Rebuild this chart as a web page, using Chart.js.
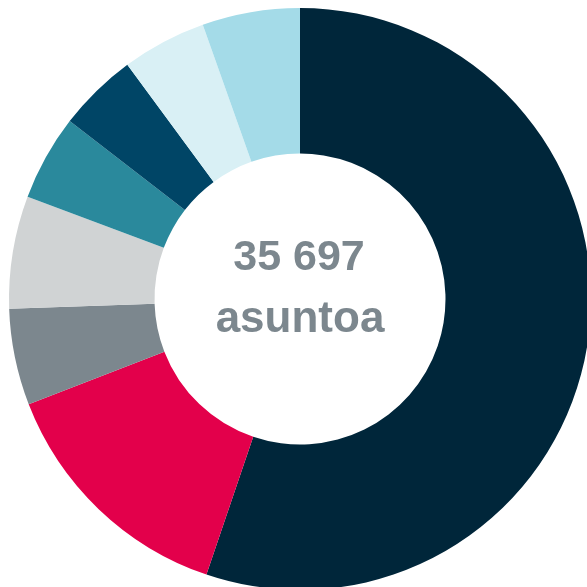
<!DOCTYPE html>
<html lang="fi">
<head>
  <meta charset="UTF-8" />
  <title>Asunnot</title>
  <script src="https://cdn.jsdelivr.net/npm/chart.js"></script>
  <style>
    html, body { margin: 0; padding: 0; background: #fff; }
    #wrap { width: 587px; height: 587px; overflow: hidden; position: relative; }
    #box { width: 600px; height: 600px; position: absolute; left: 0; top: 0; }
  </style>
</head>
<body>
  <div id="wrap"><div id="box"><canvas id="donut"></canvas></div></div>

  <script>
    // Data
    const labels = ["A", "B", "C", "D", "E", "F", "G", "H"];
    const values = [19708, 4962, 1913, 2231, 1696, 1578, 1674, 1935];
    const colors = ["#00263a", "#e3004b", "#7c878e", "#d0d3d4", "#2a899c", "#004566", "#d9f0f5", "#a4dbe8"];
    const totalText = "35 697";
    const unitText = "asuntoa";

    // center text
    const centerText = {
      id: "centerText",
      afterDraw(chart) {
        const ctx = chart.ctx;
        const a = chart.chartArea;
        const cx = (a.left + a.right) / 2;
        ctx.save();
        ctx.fillStyle = "#7c878e";
        ctx.textAlign = "center";
        ctx.textBaseline = "alphabetic";
        ctx.font = "bold 43px 'Liberation Sans', Arial, sans-serif";
        ctx.fillText(totalText, cx - 1, 270);
        ctx.font = "bold 44px 'Liberation Sans', Arial, sans-serif";
        ctx.fillText(unitText, cx, 332);
        ctx.restore();
      }
    };

    new Chart(document.getElementById("donut"), {
      type: "doughnut",
      data: {
        labels: labels,
        datasets: [{
          data: values,
          backgroundColor: colors,
          borderWidth: 0
        }]
      },
      options: {
        responsive: true,
        maintainAspectRatio: false,
        animation: false,
        cutout: "50%",
        layout: { padding: { left: 9, right: 9, top: 8, bottom: 10 } },
        plugins: {
          legend: { display: false },
          tooltip: { enabled: false }
        }
      },
      plugins: [centerText]
    });
  </script>
</body>
</html>
